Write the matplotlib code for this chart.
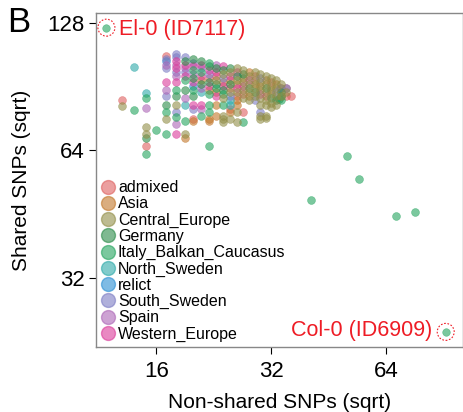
import matplotlib.pyplot as plt
import numpy as np
from matplotlib.lines import Line2D

plt.rcParams['font.family'] = ['Liberation Sans', 'DejaVu Sans']

# groups, legend order
groups = ["admixed", "Asia", "Central_Europe", "Germany", "Italy_Balkan_Caucasus",
          "North_Sweden", "relict", "South_Sweden", "Spain", "Western_Europe"]
colors = ["#de605f", "#c2772a", "#928e48", "#2a8b48", "#24a45e",
          "#2da9a9", "#2a8ed3", "#7c7cc4", "#ac65b6", "#db3b9a"]

# (non-shared, shared) per group
admixed = [(17, 107), (22, 95), (23, 96), (25, 90), (26, 86), (27, 87), (29, 96),
           (31, 86), (32, 93), (35, 86), (36, 86), (35, 89.7), (13, 84), (15, 65.5),
           (20, 76), (25, 80), (27, 79)]
asia = [(21, 94), (22, 89), (23, 88), (24, 93), (25, 94), (26, 92), (26, 84), (27, 95),
        (28, 98), (28, 86), (29, 92), (30, 91), (31, 94), (32, 89), (33, 92), (34, 90),
        (19, 68.6), (20, 75), (22, 76), (22, 75), (23, 82), (23, 77), (25, 79), (26, 82)]
central_europe = [(23, 94), (24, 97), (24, 85), (25, 98), (25, 88), (26, 100), (26, 94),
                  (26, 88), (27, 99), (27, 93), (27, 89), (27, 85), (28, 96), (28, 92),
                  (28, 88), (28, 84), (29, 98), (29, 94), (29, 90), (29, 86), (30, 97),
                  (30, 93), (30, 89), (30, 85), (31, 96), (31, 92), (31, 88), (31, 84),
                  (32, 95), (32, 91), (32, 87), (33, 94), (33, 90), (33, 86), (34, 92),
                  (34, 86), (35, 88), (13, 81.6), (15, 72.8), (15, 69.9), (17, 76),
                  (18, 82), (19, 70), (24, 77), (24, 76), (24, 74.5), (25, 76), (26, 79),
                  (26, 74.5), (30, 82), (30, 77), (30, 76), (31, 82), (31, 77), (31, 76.5),
                  (32, 83), (32, 81), (33, 82)]
germany = [(17, 82), (18, 86), (19, 104), (19, 89), (20, 105), (20, 95), (20, 86),
           (21, 104), (21, 92), (22, 101), (22, 93), (23, 100), (23, 92), (24, 99),
           (24, 89), (25, 100), (25, 92), (26, 96), (27, 97), (28, 90), (29, 88),
           (31, 90), (32, 85), (33, 84), (34, 88), (34, 86), (33.6, 84.5), (15, 68.6)]
italy = [(17, 79), (17, 70), (18, 89), (18, 76.6), (19, 93.6), (19, 75), (20, 99),
         (20, 89), (21, 98), (21, 77), (22, 103), (22, 87), (22, 82), (22, 79),
         (22, 65.5), (23, 90), (24, 87), (24, 82), (27, 74.5), (34, 84), (14, 79.8),
         (15, 85), (16, 71.6), (15, 62.8), (50.7, 62), (54.5, 54.8), (40.8, 48.9),
         (68.2, 44.9), (76.2, 45.9)]
north_sweden = [(21, 88), (25, 84), (25, 82), (19, 82), (14, 100.5), (15, 87.5)]
relict = [(17, 104), (20, 91)]
south_sweden = [(17, 105), (17, 100), (17, 86), (18, 108), (18, 106), (18, 98), (18, 79),
                (19, 106), (19, 98), (20, 103), (20, 80), (21, 100), (22, 97), (24, 95),
                (25, 86), (29, 84), (30, 95), (30, 79), (33, 88), (35, 90), (33.8, 89.7)]
spain = [(17, 102), (17, 89), (18, 102), (18, 96), (18, 74), (19, 100), (19, 85),
         (20, 97), (21, 90), (21, 80), (23, 102), (15, 80.6)]
western_europe = [(17, 93), (18, 104), (18, 100), (18, 93), (18, 70), (19, 102), (19, 96),
                  (20, 101), (20, 93), (20, 82), (21, 102), (21, 96), (21, 82), (22, 99),
                  (22, 91), (23, 98), (23, 86), (24, 101), (24, 91), (25, 96), (26, 98),
                  (26, 90), (27, 91), (28, 94), (30, 87)]

points = [admixed, asia, central_europe, germany, italy,
          north_sweden, relict, south_sweden, spain, western_europe]
draw_order = [0, 1, 6, 5, 7, 8, 9, 3, 4, 2]

el0 = (11.84, 124.6)
col0 = (91.9, 23.9)

fig = plt.figure(figsize=(4.64, 4.12), dpi=100)
ax = fig.add_axes([0.2076, 0.157, 0.7909, 0.812])

for i in draw_order:
    xs, ys = zip(*points[i])
    ax.scatter(xs, ys, s=32, color=colors[i], alpha=0.6, linewidths=0.4,
               edgecolors=colors[i], zorder=2)

# highlighted accessions
for p in (el0, col0):
    ax.scatter([p[0]], [p[1]], s=30, color=colors[4], alpha=0.6, linewidths=0.4,
               edgecolors=colors[4], zorder=3)
    ax.scatter([p[0]], [p[1]], s=150, facecolors="none", edgecolors="#ee1c25",
               linewidths=0.8, linestyle=(0, (1.5, 1.5)), zorder=3)
ax.annotate("El-0 (ID7117)", el0, xytext=(9, -1), textcoords="offset points",
            ha="left", va="center", color="#ee1c25", fontsize=15.5)
ax.annotate("Col-0 (ID6909)", col0, xytext=(-10, 1), textcoords="offset points",
            ha="right", va="center", color="#ee1c25", fontsize=15.5)

ax.set_xscale("log", base=2)
ax.set_yscale("log", base=2)
ax.set_xlim(11.14, 102.2)
ax.set_ylim(21.98, 135.1)
ax.set_xticks([16, 32, 64])
ax.set_xticklabels(["16", "32", "64"])
ax.set_yticks([32, 64, 128])
ax.set_yticklabels(["32", "64", "128"])
ax.minorticks_off()
ax.tick_params(labelsize=16, length=5, width=0.8, direction="out")
ax.tick_params(axis="x", pad=5)
for sp in ax.spines.values():
    sp.set_color("#888888")
    sp.set_linewidth(1)

ax.set_xlabel("Non-shared SNPs (sqrt)", fontsize=15, labelpad=8)
ax.set_ylabel("Shared SNPs (sqrt)", fontsize=15, labelpad=12)

handles = [Line2D([], [], marker="o", linestyle="none", markersize=10,
                  markerfacecolor=c, markeredgecolor=c, alpha=0.6) for c in colors]
ax.legend(handles, groups, loc="lower left", frameon=False, fontsize=11.5,
          handlelength=0.8, handletextpad=0.2, labelspacing=0.075,
          borderaxespad=0.2, borderpad=0.15)

fig.text(0.015, 0.985, "B", fontsize=25, ha="left", va="top")

fig.savefig("out.png", dpi=100)
